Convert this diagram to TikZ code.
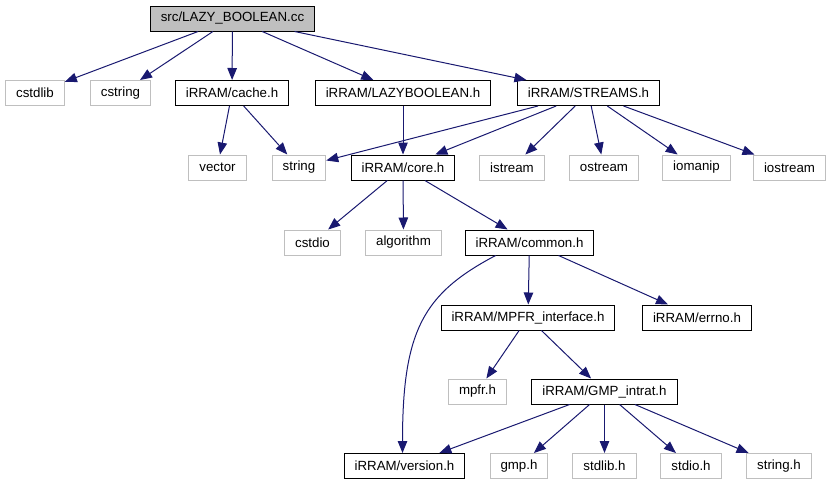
\documentclass[tikz,border=0pt]{standalone}
\usepackage{fontspec}
\setmainfont{Liberation Sans}
\usetikzlibrary{arrows.meta}
\definecolor{edgeblue}{RGB}{25,25,112}
\definecolor{sysgray}{RGB}{191,191,191}
\begin{document}
\begin{tikzpicture}[x=1pt, y=-1pt, >={Triangle[length=12pt,width=9.5pt]},
  file/.style={draw, line width=1pt, minimum height=25pt, inner xsep=10.5pt, inner ysep=0pt,
    font=\fontsize{13.3}{15}\selectfont},
  sys/.style={file, draw=sysgray},
  top/.style={file, fill=sysgray},
  edge/.style={->, draw=edgeblue, line width=1pt}]
  \useasboundingbox (0,0) rectangle (831,485);
  % first row
  \node[top] (root) at (232.5,18.5) {src/LAZY\_BOOLEAN.cc};
  \node[sys]  (cstdlib)  at (35,93)    {cstdlib};
  \node[sys]  (cstring)  at (120.5,93) {cstring};
  \node[file] (cache)    at (232,93)   {iRRAM/cache.h};
  \node[file] (lazybool) at (403,93)   {iRRAM/LAZYBOOLEAN.h};
  \node[file] (streams)  at (588.5,93) {iRRAM/STREAMS.h};
  % headers below
  \node[sys]  (vector)   at (217.5,167.5) {vector};
  \node[sys]  (string)   at (299,167.5)   {string};
  \node[file] (core)     at (403,167.5)   {iRRAM/core.h};
  \node[sys]  (istream)  at (512,167.5)   {istream};
  \node[sys]  (ostream)  at (604,167.5)   {ostream};
  \node[sys]  (iomanip)  at (696.5,167.5) {iomanip};
  \node[sys]  (iostream) at (789.5,167.5) {iostream};
  \node[sys]  (cstdio)    at (312.5,242.5) {cstdio};
  \node[sys]  (algorithm) at (403.5,242.5) {algorithm};
  \node[file] (common)    at (529.5,242.5) {iRRAM/common.h};
  \node[file] (mpfriface) at (528,317.5)   {iRRAM/MPFR\_interface.h};
  \node[file] (errno)     at (697,317.5)   {iRRAM/errno.h};
  \node[sys]  (mpfrh)     at (477.5,391.5) {mpfr.h};
  \node[file] (gmpintrat) at (604.5,391.5) {iRRAM/GMP\_intrat.h};
  \node[file] (version)   at (404.5,466)   {iRRAM/version.h};
  \node[sys]  (gmph)      at (519,466)     {gmp.h};
  \node[sys]  (stdlibh)   at (604.5,466)   {stdlib.h};
  \node[sys]  (stdioh)    at (691,466)     {stdio.h};
  \node[sys]  (stringh)   at (779,466)     {string.h};
  % includes
  \foreach \t in {cstdlib,cstring,cache,lazybool,streams} \draw[edge] (root) -- (\t);
  \foreach \t in {vector,string} \draw[edge] (cache) -- (\t);
  \draw[edge] (lazybool) -- (core);
  \foreach \t in {string,core,istream,ostream,iomanip,iostream} \draw[edge] (streams) -- (\t);
  \foreach \t in {cstdio,algorithm,common} \draw[edge] (core) -- (\t);
  \draw[edge] (common.201) .. controls +(-72,38) and +(0,-123) .. ([xshift=-2pt]version.north);
  \foreach \t in {mpfriface,errno} \draw[edge] (common) -- (\t);
  \foreach \t in {mpfrh,gmpintrat} \draw[edge] (mpfriface) -- (\t);
  \foreach \t in {version,gmph,stdlibh,stdioh,stringh} \draw[edge] (gmpintrat) -- (\t);
\end{tikzpicture}
\end{document}
